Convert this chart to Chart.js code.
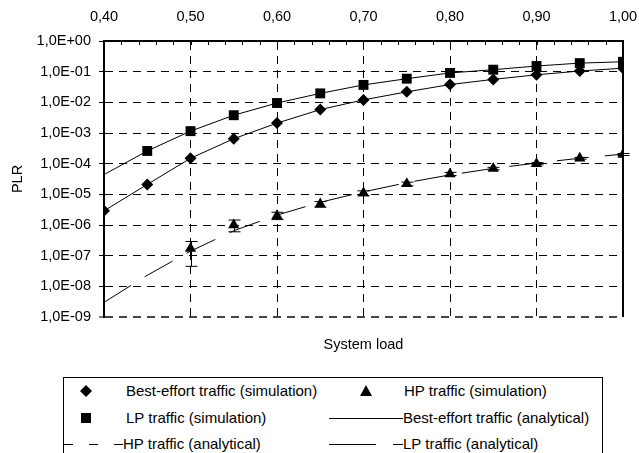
<!DOCTYPE html>
<html>
<head>
<meta charset="utf-8">
<script src="https://cdn.jsdelivr.net/npm/chart.js@4.4.0/dist/chart.umd.min.js"></script>
<style>
  html, body { margin: 0; padding: 0; background: #fff; }
  body { width: 639px; height: 453px; position: relative; overflow: hidden; font-family: "Liberation Sans", Arial, sans-serif; }
  #wrap { position: absolute; left: 0; top: 0; width: 639px; height: 360px; }
  #legend { position: absolute; left: 63px; top: 377px; width: 540px; height: 90px; border: 1px solid #000; box-sizing: border-box; font-size: 15px; color: #000; }
  #legend .item { position: absolute; height: 26px; line-height: 26px; white-space: nowrap; }
  #legend svg { position: absolute; top: 0; }
</style>
</head>
<body>
<div id="wrap"><canvas id="plr-chart"></canvas></div>
<div id="legend"></div>
<script>
const loads = [0.40, 0.45, 0.50, 0.55, 0.60, 0.65, 0.70, 0.75, 0.80, 0.85, 0.90, 0.95, 1.00];
const beSim = [2.9e-6, 2.1e-5, 1.5e-4, 6.5e-4, 2.1e-3, 5.8e-3, 1.2e-2, 2.2e-2, 3.8e-2, 5.6e-2, 7.9e-2, 1.05e-1, 1.3e-1];
const lpSim = [null, 2.6e-4, 1.15e-3, 3.8e-3, 9.5e-3, 1.96e-2, 3.7e-2, 5.9e-2, 9.1e-2, 1.16e-1, 1.53e-1, 1.9e-1, 2.1e-1];
const hpSim = [null, null, 1.7e-7, 1.0e-6, 2.0e-6, 4.8e-6, 1.1e-5, 2.2e-5, 4.6e-5, 7.0e-5, 1.0e-4, 1.5e-4, 2.0e-4];
const hpLow = [null, null, 4.5e-8, 6.0e-7, 1.5e-6, 3.8e-6, 9.0e-6, 1.9e-5, 4.1e-5, 6.3e-5, 9.2e-5, 1.4e-4, 1.85e-4];
const hpHigh = [null, null, 2.9e-7, 1.45e-6, 2.6e-6, 5.8e-6, 1.3e-5, 2.5e-5, 5.2e-5, 7.6e-5, 1.08e-4, 1.6e-4, 2.15e-4];
const beAna = [2.9e-6, 2.1e-5, 1.5e-4, 6.5e-4, 2.1e-3, 5.8e-3, 1.2e-2, 2.2e-2, 3.8e-2, 5.6e-2, 7.9e-2, 1.05e-1, 1.3e-1];
const lpAna = [4.4e-5, 2.6e-4, 1.15e-3, 3.8e-3, 9.5e-3, 1.96e-2, 3.7e-2, 5.9e-2, 9.1e-2, 1.16e-1, 1.53e-1, 1.9e-1, 2.1e-1];
const hpAna = [3.0e-9, 2.3e-8, 1.4e-7, 6.5e-7, 2.1e-6, 5.5e-6, 1.2e-5, 2.4e-5, 4.3e-5, 7.0e-5, 1.05e-4, 1.5e-4, 2.05e-4];
const yTicks = [1e0, 1e-1, 1e-2, 1e-3, 1e-4, 1e-5, 1e-6, 1e-7, 1e-8, 1e-9];
const legendLabels = [
  'Best-effort traffic (simulation)', 'HP traffic (simulation)',
  'LP traffic (simulation)', 'Best-effort traffic (analytical)',
  'HP traffic (analytical)', 'LP traffic (analytical)'
];

const FONT = '"Liberation Sans", Arial, sans-serif';
const pts = (arr) => loads.map((x, i) => ({ x: x, y: arr[i] }));

function fmtExp(v) {
  const e = Math.round(Math.log10(v));
  const s = e < 0 ? '-' : '+';
  return '1,0E' + s + String(Math.abs(e)).padStart(2, '0');
}

// right frame line, small inward ticks on the top axis, error bars on HP simulation points
const extras = {
  id: 'extras',
  afterDatasetsDraw(chart) {
    const ctx = chart.ctx;
    const xs = chart.scales.x, ys = chart.scales.y;
    const area = chart.chartArea;
    ctx.save();
    ctx.strokeStyle = '#000';
    ctx.lineWidth = 2;
    ctx.beginPath();
    ctx.moveTo(area.right, area.top);
    ctx.lineTo(area.right, area.bottom);
    ctx.stroke();
    ctx.lineWidth = 1;
    ctx.beginPath();
    for (let i = 0; i <= 30; i++) {
      const px = Math.round(xs.getPixelForValue(0.40 + i * 0.02)) + 0.5;
      ctx.moveTo(px, area.top);
      ctx.lineTo(px, area.top + 4);
    }
    ctx.stroke();
    ctx.beginPath();
    loads.forEach((x, i) => {
      if (hpLow[i] == null) return;
      const px = Math.round(xs.getPixelForValue(x)) + 0.5;
      const y1 = ys.getPixelForValue(hpLow[i]);
      const y2 = ys.getPixelForValue(hpHigh[i]);
      ctx.moveTo(px, y1); ctx.lineTo(px, y2);
      ctx.moveTo(px - 6, y1); ctx.lineTo(px + 6, y1);
      ctx.moveTo(px - 6, y2); ctx.lineTo(px + 6, y2);
    });
    ctx.stroke();
    ctx.restore();
  }
};

const ctx = document.getElementById('plr-chart').getContext('2d');
new Chart(ctx, {
  type: 'scatter',
  data: {
    datasets: [
      { label: legendLabels[0], data: pts(beSim), showLine: false, pointStyle: 'rectRot', pointRadius: 6, backgroundColor: '#000', borderColor: '#000', borderWidth: 0 },
      { label: legendLabels[2], data: pts(lpSim), showLine: false, pointStyle: 'rect', pointRadius: 7, backgroundColor: '#000', borderColor: '#000', borderWidth: 0 },
      { label: legendLabels[1], data: pts(hpSim), showLine: false, pointStyle: 'triangle', pointRadius: 6.5, backgroundColor: '#000', borderColor: '#000', borderWidth: 0 },
      { label: legendLabels[3], data: pts(beAna), showLine: true, pointRadius: 0, borderColor: '#000', borderWidth: 1 },
      { label: legendLabels[5], data: pts(lpAna), showLine: true, pointRadius: 0, borderColor: '#000', borderWidth: 1 },
      { label: legendLabels[4], data: pts(hpAna), showLine: true, pointRadius: 0, borderColor: '#000', borderWidth: 1, borderDash: [32, 16] }
    ]
  },
  options: {
    responsive: true,
    maintainAspectRatio: false,
    animation: false,
    layout: { padding: { left: 0, top: 0, right: 16, bottom: 0 } },
    plugins: {
      legend: { display: false },
      tooltip: { enabled: false }
    },
    scales: {
      x: {
        type: 'linear',
        position: 'top',
        min: 0.4,
        max: 1.0,
        afterFit: (s) => { s.height = 41; s.paddingRight = 0; s.paddingLeft = 0; },
        ticks: {
          stepSize: 0.1,
          color: '#000',
          padding: 15,
          font: { family: FONT, size: 14.5 },
          callback: (v) => v.toFixed(2).replace('.', ',')
        },
        grid: { color: '#000', lineWidth: 1, drawTicks: false },
        border: { color: '#000', width: 2, dash: [8, 6] }
      },
      xb: {
        type: 'linear',
        position: 'bottom',
        min: 0.4,
        max: 1.0,
        afterFit: (s) => { s.height = 43; s.paddingRight = 0; s.paddingLeft = 0; },
        ticks: { display: false },
        grid: { display: false },
        border: { display: false },
        title: {
          display: true,
          text: 'System load',
          color: '#000',
          font: { family: FONT, size: 14.5 },
          padding: { top: 19, bottom: 6 }
        }
      },
      y: {
        type: 'logarithmic',
        position: 'left',
        min: 1e-9,
        max: 1,
        afterFit: (s) => { s.width = 104; },
        afterBuildTicks: (s) => { s.ticks = yTicks.map((v) => ({ value: v })); },
        ticks: {
          color: '#000',
          padding: 8,
          font: { family: FONT, size: 14.5 },
          callback: (v) => fmtExp(v)
        },
        grid: {
          color: (c) => (c.tick && c.tick.value === 1e-9 ? '#444' : '#000'),
          lineWidth: (c) => (c.tick && c.tick.value === 1e-9 ? 2 : 1),
          tickLength: 5,
          tickColor: '#000',
          tickWidth: 1
        },
        border: { color: '#000', width: 2, dash: [8, 6] },
        title: {
          display: true,
          text: 'PLR',
          color: '#000',
          font: { family: FONT, size: 14.5 },
          padding: { top: 9, bottom: 0 }
        }
      }
    }
  },
  plugins: [extras]
});

// legend box below the plot
const legend = document.getElementById('legend');
const rows = [13, 40, 66];
function addItem(label, left, top, svg) {
  const d = document.createElement('div');
  d.className = 'item';
  d.style.left = left + 'px';
  d.style.top = (top - 13) + 'px';
  d.textContent = label;
  legend.appendChild(d);
  if (svg) {
    const w = document.createElement('div');
    w.innerHTML = svg;
    const el = w.firstChild;
    el.style.top = (top - 13) + 'px';
    legend.appendChild(el);
  }
}
const svgBox = (x, w, inner) => `<svg style="left:${x}px" width="${w}" height="26" xmlns="http://www.w3.org/2000/svg">${inner}</svg>`;
addItem(legendLabels[0], 62, rows[0], svgBox(15, 14, '<polygon points="7,7 13,13 7,19 1,13" fill="#000"/>'));
addItem(legendLabels[1], 340, rows[0], svgBox(295, 14, '<polygon points="7,7 13,18 1,18" fill="#000"/>'));
addItem(legendLabels[2], 62, rows[1], svgBox(16, 12, '<rect x="1" y="8" width="10" height="10" fill="#000"/>'));
addItem(legendLabels[3], 339, rows[1], svgBox(265, 74, '<line x1="0" y1="13.5" x2="74" y2="13.5" stroke="#000" stroke-width="1"/>'));
addItem(legendLabels[4], 59, rows[2], svgBox(0, 59, '<line x1="0" y1="13.5" x2="59" y2="13.5" stroke="#000" stroke-width="1" stroke-dasharray="9 16"/>'));
addItem(legendLabels[5], 339, rows[2], svgBox(265, 74, '<line x1="0" y1="13.5" x2="47" y2="13.5" stroke="#000" stroke-width="1"/><line x1="64" y1="13.5" x2="74" y2="13.5" stroke="#000" stroke-width="1"/>'));
</script>
</body>
</html>
